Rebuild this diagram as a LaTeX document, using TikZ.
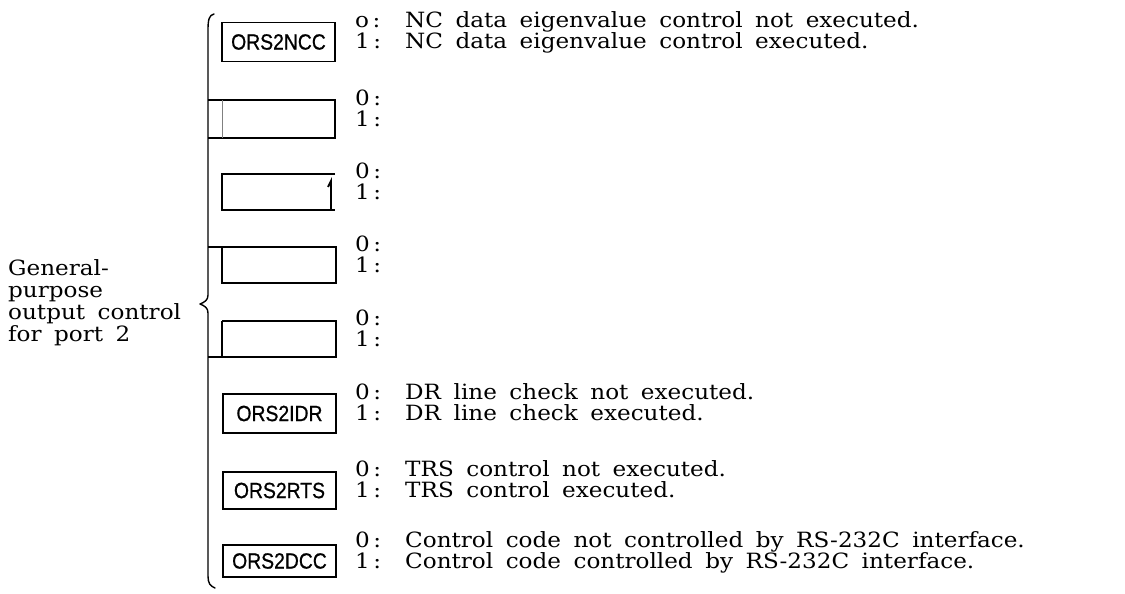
\documentclass[tikz,border=0pt]{standalone}
\usepackage{fontspec}
\setmainfont[FakeStretch=1.1]{DejaVu Serif}
\newfontfamily\boxfont[FakeBold=0.8]{Liberation Sans}
\newcommand\widegaps{\spaceskip=12.5pt plus 2pt\relax}
\begin{document}
\begin{tikzpicture}[x=1pt,y=-1pt,
  txt/.style={font=\fontsize{21}{21}\selectfont\widegaps,
    inner sep=0pt, anchor=base west},
  flagbox/.style={draw, line width=1.8pt, minimum width=113pt, inner sep=0pt,
    font=\boxfont\fontsize{22}{22}\selectfont},
  frame/.style={line width=2.3pt},
  bracestroke/.style={line width=1.4pt, line cap=round, line join=round}]
\useasboundingbox (0,0) rectangle (1125,594);

% the brace that gathers all flags
\draw[bracestroke] (214,14) .. controls (209,15) and (208,20) .. (208,30)
  -- (208,295) .. controls (208,300) and (205,302) .. (200,304)
  .. controls (205,306) and (208,308) .. (208,313)
  -- (208,576) .. controls (208,583) and (210,586) .. (215,588);

% caption at the left
\node[txt] (g1) at (8,275) {General-};
\node[txt] (g2) at (8,297) {purpose};
\node[txt] (g3) at (8,319) {output control};
\node[txt] (g4) at (8,341) {for port 2};

% named flag boxes
\node[flagbox, minimum height=39pt] (ncc) at (278.5,42)
  {\scalebox{0.88}[1]{ORS2NCC}};
\node[flagbox, minimum height=39pt] (idr) at (279.5,413.5)
  {\scalebox{0.88}[1]{ORS2IDR}};
\node[flagbox, minimum height=37pt] (rts) at (279.5,490.5)
  {\scalebox{0.88}[1]{ORS2RTS}};
\node[flagbox, minimum height=32pt] (dcc) at (279.5,561)
  {\scalebox{0.88}[1]{ORS2DCC}};

% unnamed flag boxes
\draw[frame] (208,100) -- (335,100) -- (335,138) -- (208,138);
\draw[gray, line width=0.8pt] (222,100) -- (222,138);
\draw[frame] (335,174) -- (222,174) -- (222,210) -- (335,210);
\draw[line width=1.8pt] (331,210) -- (331,181) -- (328,187);
\draw[frame] (208,247) -- (336,247) -- (336,283) -- (222,283) -- (222,247);
\draw[frame] (222,321) -- (336,321) -- (336,357) -- (208,357);
\draw[frame] (222,321) -- (222,357);

% bit descriptions
\foreach \c/\z/\a/\b in {
  42/o/{NC data eigenvalue control not executed.}/{NC data eigenvalue control executed.},
  119/0/{}/{},
  192/0/{}/{},
  265/0/{}/{},
  339/0/{}/{},
  413/0/{DR line check not executed.}/{DR line check executed.},
  490/0/{TRS control not executed.}/{TRS control executed.},
  561/0/{Control code not controlled by RS-232C interface.}/{Control code controlled by RS-232C interface.}}
{
  \node[txt] (z\c) at (355,\c-14) {\z\,:};
  \node[txt] (o\c) at (355,\c+7) {1\,:};
  \node[txt] (a\c) at (405,\c-14) {\a};
  \node[txt] (b\c) at (405,\c+7) {\b};
}
\end{tikzpicture}
\end{document}
